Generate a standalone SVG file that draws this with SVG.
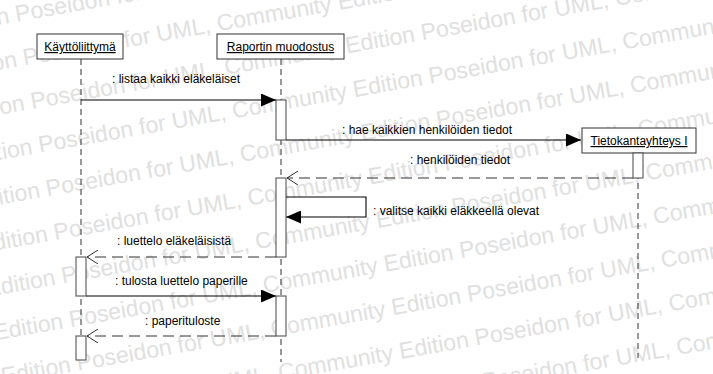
<svg xmlns="http://www.w3.org/2000/svg" width="713" height="374" viewBox="0 0 713 374">
  <defs>
    <style>
      .wm { font-family: "Liberation Sans", Arial, sans-serif; font-size: 23px; fill: #e0e0e0; }
      .obj { fill: #ffffff; stroke: #333333; stroke-width: 1; }
      .act { fill: #ffffff; stroke: #444444; stroke-width: 1; }
      .name { font-family: "Liberation Sans", Arial, sans-serif; font-size: 12px; fill: #000000; text-anchor: middle; text-decoration: underline; }
      .lbl { font-family: "Liberation Sans", Arial, sans-serif; font-size: 12px; fill: #000000; }
      .life { stroke: #333333; stroke-width: 1; stroke-dasharray: 6 4; fill: none; }
      .call { stroke: #000000; stroke-width: 1.1; fill: none; marker-end: url(#filled); }
      .ret { stroke: #333333; stroke-width: 1; stroke-dasharray: 11 6; fill: none; marker-end: url(#open); }
    </style>
    <marker id="filled" viewBox="0 0 15 13" refX="15" refY="6.5" markerWidth="15" markerHeight="13" markerUnits="userSpaceOnUse" orient="auto">
      <path d="M0,0 L15,6.5 L0,13 Z" fill="#000000"/>
    </marker>
    <marker id="open" viewBox="0 0 12 14" refX="11" refY="7" markerWidth="12" markerHeight="14" markerUnits="userSpaceOnUse" orient="auto">
      <path d="M0,0 L11,7 L0,14" fill="none" stroke="#333333" stroke-width="1"/>
    </marker>
  </defs>

  <rect x="0" y="0" width="713" height="374" fill="#ffffff"/>

  <!-- tool edition watermark, tiled diagonally behind the diagram -->
  <g id="watermark" class="wm" transform="rotate(-10)" xml:space="preserve">
    <text x="-780" y="-20">Poseidon for UML, Community Edition  Poseidon for UML, Community Edition  Poseidon for UML, Community Edition  Poseidon for UML, Community Edition  Poseidon for UML, Community Edition  </text>
    <text x="-780" y="24.3">Poseidon for UML, Community Edition  Poseidon for UML, Community Edition  Poseidon for UML, Community Edition  Poseidon for UML, Community Edition  Poseidon for UML, Community Edition  </text>
    <text x="-780" y="68.6">Poseidon for UML, Community Edition  Poseidon for UML, Community Edition  Poseidon for UML, Community Edition  Poseidon for UML, Community Edition  Poseidon for UML, Community Edition  </text>
    <text x="-780" y="112.9">Poseidon for UML, Community Edition  Poseidon for UML, Community Edition  Poseidon for UML, Community Edition  Poseidon for UML, Community Edition  Poseidon for UML, Community Edition  </text>
    <text x="-780" y="157.2">Poseidon for UML, Community Edition  Poseidon for UML, Community Edition  Poseidon for UML, Community Edition  Poseidon for UML, Community Edition  Poseidon for UML, Community Edition  </text>
    <text x="-780" y="201.5">Poseidon for UML, Community Edition  Poseidon for UML, Community Edition  Poseidon for UML, Community Edition  Poseidon for UML, Community Edition  Poseidon for UML, Community Edition  </text>
    <text x="-780" y="245.8">Poseidon for UML, Community Edition  Poseidon for UML, Community Edition  Poseidon for UML, Community Edition  Poseidon for UML, Community Edition  Poseidon for UML, Community Edition  </text>
    <text x="-780" y="290.1">Poseidon for UML, Community Edition  Poseidon for UML, Community Edition  Poseidon for UML, Community Edition  Poseidon for UML, Community Edition  Poseidon for UML, Community Edition  </text>
    <text x="-780" y="334.4">Poseidon for UML, Community Edition  Poseidon for UML, Community Edition  Poseidon for UML, Community Edition  Poseidon for UML, Community Edition  Poseidon for UML, Community Edition  </text>
    <text x="-780" y="378.7">Poseidon for UML, Community Edition  Poseidon for UML, Community Edition  Poseidon for UML, Community Edition  Poseidon for UML, Community Edition  Poseidon for UML, Community Edition  </text>
    <text x="-780" y="423">Poseidon for UML, Community Edition  Poseidon for UML, Community Edition  Poseidon for UML, Community Edition  Poseidon for UML, Community Edition  Poseidon for UML, Community Edition  </text>
    <text x="-780" y="467.3">Poseidon for UML, Community Edition  Poseidon for UML, Community Edition  Poseidon for UML, Community Edition  Poseidon for UML, Community Edition  Poseidon for UML, Community Edition  </text>
    <text x="-780" y="511.6">Poseidon for UML, Community Edition  Poseidon for UML, Community Edition  Poseidon for UML, Community Edition  Poseidon for UML, Community Edition  Poseidon for UML, Community Edition  </text>
  </g>

  <!-- lifelines and messages -->
  <g id="connectors">
    <line class="life" x1="81" y1="59" x2="81" y2="360"/>
    <line class="life" x1="281" y1="59" x2="281" y2="362"/>
    <line class="life" x1="638" y1="153" x2="638" y2="358"/>

    <line class="call" x1="81" y1="100" x2="276" y2="100"/>
    <line class="call" x1="286" y1="140" x2="581" y2="140"/>
    <line class="ret" x1="633" y1="178" x2="287" y2="178"/>
    <polyline class="call" points="286,197 366,197 366,217 286,217"/>
    <line class="ret" x1="276" y1="257" x2="87" y2="257"/>
    <line class="call" x1="86" y1="296" x2="276" y2="296"/>
    <line class="ret" x1="276" y1="336" x2="87" y2="336"/>

    <text class="lbl" x="112" y="83">: listaa kaikki eläkeläiset</text>
    <text class="lbl" x="342" y="134">: hae kaikkien henkilöiden tiedot</text>
    <text class="lbl" x="410" y="164">: henkilöiden tiedot</text>
    <text class="lbl" x="373" y="215">: valitse kaikki eläkkeellä olevat</text>
    <text class="lbl" x="117" y="245">: luettelo eläkeläisistä</text>
    <text class="lbl" x="115" y="285">: tulosta luettelo paperille</text>
    <text class="lbl" x="145" y="325">: paperituloste</text>
  </g>

  <g id="kayttoliittyma">
    <rect class="obj" x="37" y="34" width="86" height="25"/>
    <text class="name" x="80" y="51">Käyttöliittymä</text>
    <rect class="act" x="76" y="257" width="10" height="39"/>
    <rect class="act" x="76" y="336" width="10" height="24"/>
  </g>

  <g id="raportin-muodostus">
    <rect class="obj" x="217" y="34" width="127" height="25"/>
    <text class="name" x="280.5" y="51">Raportin muodostus</text>
    <rect class="act" x="276" y="100" width="10" height="40"/>
    <rect class="act" x="276" y="178" width="10" height="79"/>
    <rect class="act" x="276" y="296" width="10" height="40"/>
  </g>

  <g id="tietokantayhteys">
    <rect class="obj" x="582" y="128" width="114" height="25"/>
    <text class="name" x="639" y="145">Tietokantayhteys I</text>
    <rect class="act" x="633" y="153" width="10" height="25"/>
  </g>
</svg>
